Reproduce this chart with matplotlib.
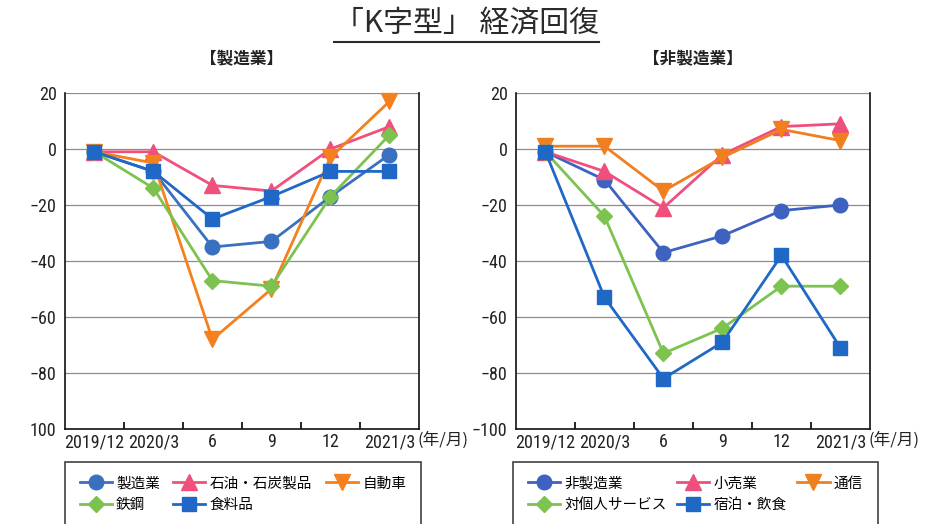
import numpy as np
import matplotlib
matplotlib.use('Agg')
import matplotlib.pyplot as plt
from matplotlib.lines import Line2D
from matplotlib import font_manager

plt.rcParams['font.family'] = ['Noto Sans CJK JP', 'DejaVu Sans']

# 短観DI (%ポイント)
periods = ['2019/12', '2020/3', '6', '9', '12', '2021/3']

mfg_names = ['製造業', '石油・石炭製品', '自動車', '鉄鋼', '食料品']
mfg_total = [-1, -8, -35, -33, -17, -2]
mfg_oil = [-1, -1, -13, -15, 0, 8]
mfg_auto = [-1, -5, -68, -50, -3, 17]
mfg_steel = [-1, -14, -47, -49, -17, 5]
mfg_food = [-1, -8, -25, -17, -8, -8]

non_names = ['非製造業', '小売業', '通信', '対個人サービス', '宿泊・飲食']
non_total = [-1, -11, -37, -31, -22, -20]
non_retail = [-1, -8, -21, -2, 8, 9]
non_telecom = [1, 1, -15, -3, 7, 3]
non_personal = [-1, -24, -73, -64, -49, -49]
non_hotel = [-1, -53, -82, -69, -38, -71]

yticks = [20, 0, -20, -40, -60, -80, -100]
left_ylabels = ['20', '0', '\u221220', '\u221240', '\u221260', '\u221280', '100']
right_ylabels = ['20', '0', '\u221220', '\u221240', '\u221260', '\u221280', '\u2212100']


def narrow_font():
    # 細い数字用フォントを探す (なければ Liberation Sans)
    for fam in ['Liberation Sans Narrow', 'Roboto Condensed', 'Open Sans Condensed']:
        try:
            font_manager.findfont(font_manager.FontProperties(family=fam),
                                  fallback_to_default=False)
            return dict(family=[fam, 'Noto Sans CJK JP'], fontsize=13)
        except ValueError:
            pass
    path = font_manager.findfont(font_manager.FontProperties(
        family='DejaVu Sans', stretch='condensed'))
    if 'Condensed' in path:
        return dict(family=['DejaVu Sans'], stretch='condensed', fontsize=12)
    return dict(family=['Liberation Sans', 'Noto Sans CJK JP'], fontsize=11.5)


num_kw = narrow_font()

styles_mfg = [('o', '#3a70c0', 10.5), ('^', '#f0507c', 11), ('v', '#f5801e', 11),
              ('D', '#7dc24f', 8), ('s', '#1f68c8', 10)]
styles_non = [('o', '#3d62bf', 10.5), ('^', '#ef4f7d', 11), ('v', '#f07f1f', 11),
              ('D', '#7cc350', 8), ('s', '#1f68c6', 10)]


def draw_panel(ax, series, names, styles, ylabels, subtitle, leg_x0, leg_w):
    x = np.arange(len(periods))
    handles = []
    for vals, name, (mk, col, ms) in zip(series, names, styles):
        h, = ax.plot(x, vals, color=col, lw=2.0, marker=mk, ms=ms,
                     mfc=col, mec=col, mew=1, label=name, clip_on=False)
        handles.append(h)
    ax.set_xlim(-0.5, len(periods) - 0.5)
    ax.set_ylim(-100, 20)
    ax.set_yticks(yticks)
    ax.set_yticklabels(ylabels, color='#222222', **num_kw)
    ax.tick_params(axis='y', length=0, pad=6)
    ax.set_xticks(x)
    ax.set_xticklabels(periods, color='#222222', **num_kw)
    ax.tick_params(axis='x', which='major', length=0, pad=3)
    ax.set_xticks(x[:-1] + 0.5, minor=True)
    ax.tick_params(axis='x', which='minor', direction='in', length=5, width=1.2)
    for yv in yticks[:-1]:
        ax.axhline(yv, color='#8c8c8c', lw=0.9, zorder=0)
    ax.spines['top'].set_visible(False)
    for s in ['left', 'right', 'bottom']:
        ax.spines[s].set_color('#111111')
        ax.spines[s].set_linewidth(1.2)
    ax.text(0.995, -0.033, '(年/月)', transform=ax.transAxes, ha='left',
            va='center', fontsize=12, color='#222222')
    ax.set_title(subtitle, fontsize=12, fontweight='bold', pad=21, color='#222222')
    # 凡例は行方向に並べる
    order = [0, 3, 1, 4, 2]
    leg = ax.legend([handles[i] for i in order], [names[i] for i in order],
                    ncol=3, loc='upper left', mode='expand',
                    bbox_to_anchor=(leg_x0, -0.40, leg_w, 0.302),
                    fontsize=10.5, frameon=True, fancybox=False,
                    edgecolor='#111111', handlelength=2.2, handletextpad=0.3,
                    columnspacing=0.6, labelspacing=0.5, borderpad=1.0,
                    numpoints=1, borderaxespad=0)
    leg.get_frame().set_linewidth(1.2)
    leg.set_clip_on(False)


fig = plt.figure(figsize=(9.32, 5.24), dpi=100)
ax1 = fig.add_axes([0.0697, 0.1813, 0.3798, 0.6412])
ax2 = fig.add_axes([0.5536, 0.1813, 0.3798, 0.6412])

draw_panel(ax1, [mfg_total, mfg_oil, mfg_auto, mfg_steel, mfg_food],
           mfg_names, styles_mfg, left_ylabels, '【製造業】', 0.0, 1.005)
draw_panel(ax2, [non_total, non_retail, non_telecom, non_personal, non_hotel],
           non_names, styles_non, right_ylabels, '【非製造業】', -0.008, 1.03)

title = fig.text(0.5, 1 - 23 / 524, '「K字型」 経済回復', ha='center', va='center',
                 fontsize=21.5, color='#2a2a2a')
# タイトルの下線
fig.canvas.draw()
bb = title.get_window_extent().transformed(fig.transFigure.inverted())
fig.add_artist(Line2D([bb.x0, bb.x1], [1 - 42 / 524] * 2, transform=fig.transFigure,
                      color='#2a2a2a', lw=1.5))

fig.savefig('out.png', dpi=100)
